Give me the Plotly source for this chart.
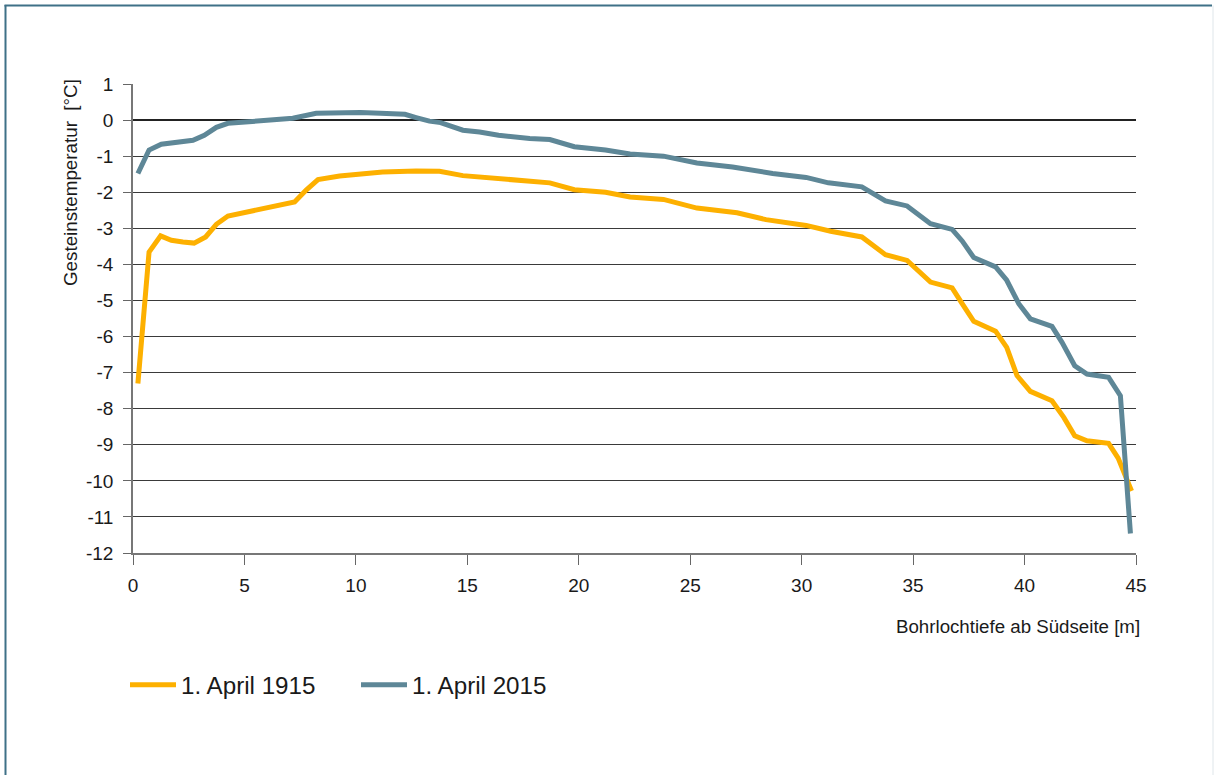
import plotly.graph_objects as go

# Depth (m) and temperature (°C)
depth_1915 = [0.22, 0.72, 1.24, 1.72, 2.24, 2.74, 3.26, 3.74, 4.26, 5.23, 6.28, 7.25, 7.77, 8.3,
              9.27, 10.3, 11.2, 12.7, 13.75, 14.8, 15.7, 16.75, 18.7, 19.8, 21.2, 22.3, 23.8,
              25.3, 27.1, 28.4, 30.2, 31.3, 32.7, 33.76, 34.73, 35.78, 36.75, 37.2, 37.72,
              38.7, 39.2, 39.66, 40.26, 41.23, 41.76, 42.25, 42.8, 43.77, 44.2, 44.8]
temp_1915 = [-7.3, -3.66, -3.21, -3.33, -3.38, -3.41, -3.24, -2.89, -2.66, -2.54, -2.39, -2.27,
             -1.94, -1.65, -1.55, -1.49, -1.44, -1.41, -1.42, -1.54, -1.59, -1.62, -1.74, -1.93,
             -2.0, -2.13, -2.2, -2.44, -2.57, -2.76, -2.92, -3.08, -3.24, -3.73, -3.89, -4.49,
             -4.65, -5.09, -5.58, -5.85, -6.3, -7.08, -7.52, -7.78, -8.24, -8.75, -8.89, -8.96,
             -9.37, -10.28]

depth_2015 = [0.22, 0.72, 1.27, 1.72, 2.24, 2.69, 3.2, 3.74, 4.26, 5.2, 6.28, 7.17, 8.22, 9.27,
              10.2, 11.1, 11.7, 12.2, 12.7, 13.3, 13.8, 14.2, 14.8, 15.55, 16.4, 17.8, 18.7,
              19.8, 21.2, 22.3, 23.8, 25.3, 26.9, 28.7, 30.2, 31.2, 32.7, 33.76, 34.73, 35.78,
              36.75, 37.2, 37.72, 38.7, 39.2, 39.74, 40.26, 41.23, 41.68, 42.25, 42.8, 43.77,
              44.3, 44.75]
temp_2015 = [-1.48, -0.83, -0.67, -0.63, -0.6, -0.56, -0.42, -0.2, -0.09, -0.05, 0.0, 0.05,
             0.19, 0.21, 0.21, 0.19, 0.19, 0.16, 0.07, -0.03, -0.07, -0.14, -0.28, -0.33, -0.42,
             -0.51, -0.54, -0.74, -0.83, -0.94, -1.0, -1.19, -1.3, -1.48, -1.59, -1.74, -1.85,
             -2.24, -2.38, -2.87, -3.03, -3.35, -3.81, -4.07, -4.44, -5.09, -5.51, -5.72, -6.16,
             -6.81, -7.04, -7.13, -7.64, -11.46]

series_names = ["1. April 1915", "1. April 2015"]
x_ticks = [0, 5, 10, 15, 20, 25, 30, 35, 40, 45]
y_ticks = list(range(-12, 2))
y_ticktext = [str(v) for v in y_ticks]  # plain hyphen minus as in the reference

ORANGE = "#FDB000"
BLUE = "#5E8797"
FONT = "Liberation Sans, Arial, sans-serif"

fig = go.Figure()
fig.add_trace(go.Scatter(x=depth_1915, y=temp_1915, mode="lines", name=series_names[0],
                         line=dict(color=ORANGE, width=5)))
fig.add_trace(go.Scatter(x=depth_2015, y=temp_2015, mode="lines", name=series_names[1],
                         line=dict(color=BLUE, width=5)))

L, T, W, H = 133, 84, 1003, 469


def px(x):
    return (x - L) / W


def py(y):
    return (T + H - y) / H


fig.update_layout(
    width=1215, height=775,
    margin=dict(l=L, r=1215 - L - W, t=T, b=775 - T - H),
    paper_bgcolor="white", plot_bgcolor="white",
    font=dict(family=FONT, size=19, color="#1a1a1a"),
    showlegend=True,
    legend=dict(orientation="h", x=px(125), xanchor="left", y=py(685), yanchor="middle",
                font=dict(size=24.2, color="#1a1a1a"), itemwidth=46, entrywidth=170,
                traceorder="normal"),
    xaxis=dict(range=[0, 45], tickvals=x_ticks, ticks="outside", ticklen=10, tickcolor="#666",
               showline=True, linecolor="#777", linewidth=1.5, showgrid=False, zeroline=False,
               tickfont=dict(size=19), ticklabelstandoff=4),
    yaxis=dict(range=[-12, 1], tickvals=y_ticks, ticktext=y_ticktext, ticks="outside", ticklen=8,
               tickcolor="#666", showline=True, linecolor="#777", linewidth=1.5,
               showgrid=True, gridcolor="#3a3a3a", gridwidth=1,
               zeroline=True, zerolinecolor="#222", zerolinewidth=2,
               tickfont=dict(size=19), ticklabelstandoff=6),
    annotations=[
        dict(text="Gesteinstemperatur  [°C]", xref="paper", yref="paper",
             x=px(70), y=py(183), textangle=-90, showarrow=False,
             xanchor="center", yanchor="middle", font=dict(size=18.8)),
        dict(text="Bohrlochtiefe ab Südseite [m]", xref="paper", yref="paper",
             x=px(1142), y=py(626), showarrow=False,
             xanchor="right", yanchor="middle", font=dict(size=18.7)),
    ],
    shapes=[
        dict(type="line", xref="paper", yref="paper", x0=px(5.5), x1=px(5.5),
             y0=py(5), y1=py(790), line=dict(color="#3F7187", width=2)),
        dict(type="line", xref="paper", yref="paper", x0=px(4.5), x1=px(1212),
             y0=py(5.5), y1=py(5.5), line=dict(color="#3F7187", width=2)),
        dict(type="line", xref="paper", yref="paper", x0=px(1213), x1=px(1213),
             y0=py(5.5), y1=py(790), line=dict(color="#dfe6ea", width=1)),
    ],
)

fig.write_html("out.html", config={"displayModeBar": False},
               post_script="document.body.style.margin='0';document.body.style.overflow='hidden';")
